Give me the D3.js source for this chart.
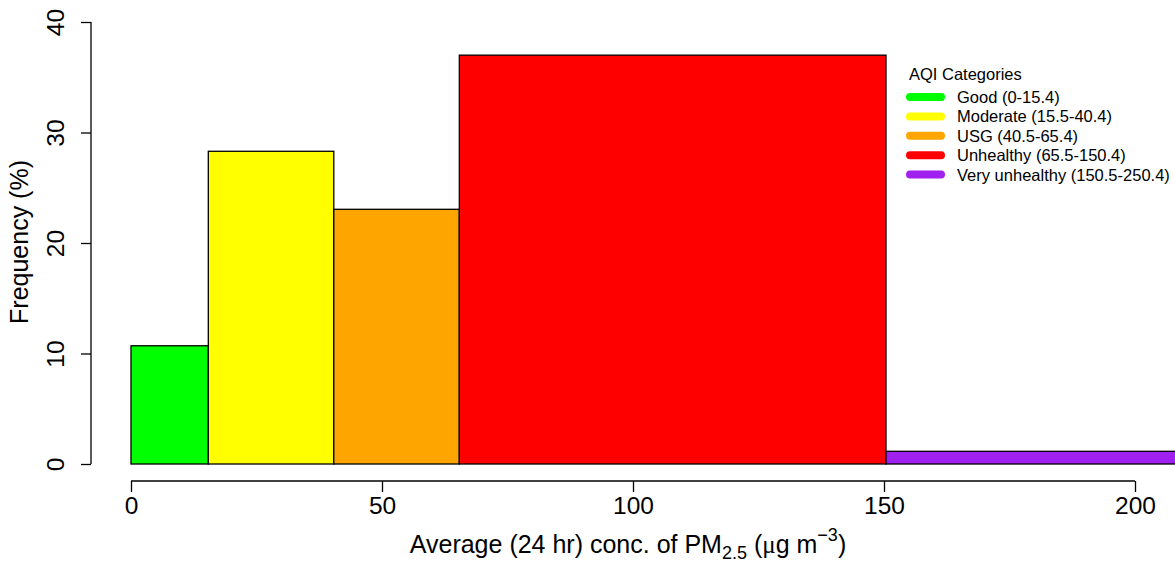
<!DOCTYPE html>
<html>
<head>
<meta charset="utf-8">
<script src="https://cdn.jsdelivr.net/npm/d3@7"></script>
<style>
  body { margin: 0; background: #fff; }
  text { font-family: "Liberation Sans", Arial, sans-serif; }
</style>
</head>
<body>
<div id="chart"></div>
<script>
// histogram bins (PM2.5 AQI breakpoints) and frequency in %
const binStart = [0, 15.4, 40.4, 65.4, 150.4];
const binEnd = [15.4, 40.4, 65.4, 150.4, 250.4];
const freq = [10.7, 28.3, 23.05, 37.0, 1.15];
const binColors = ["#00ff00", "#ffff00", "#ffa500", "#ff0000", "#a020f0"];
const legendLabels = [
    "Good (0-15.4)",
    "Moderate (15.5-40.4)",
    "USG (40.5-65.4)",
    "Unhealthy (65.5-150.4)",
    "Very unhealthy (150.5-250.4)"
];
const xTicks = [0, 50, 100, 150, 200];
const yTicks = [0, 10, 20, 30, 40];

const width = 1175;
const height = 564;

const svg = d3.select("#chart")
    .append("svg")
    .attr("width", width)
    .attr("height", height);

const xScale = d3.scaleLinear()
    .domain([0, 200])
    .range([131, 1135]);

const yScale = d3.scaleLinear()
    .domain([0, 40])
    .range([464, 22]);

// bars
svg.selectAll("rect.bar")
    .data(freq)
    .enter()
    .append("rect")
    .attr("class", "bar")
    .attr("x", (d, i) => xScale(binStart[i]))
    .attr("y", d => yScale(d))
    .attr("width", (d, i) => xScale(binEnd[i]) - xScale(binStart[i]))
    .attr("height", d => yScale(0) - yScale(d))
    .style("fill", (d, i) => binColors[i])
    .style("stroke", "#000")
    .style("stroke-width", 1.3);

// X axis (R style, detached)
const xAxis = svg.append("g")
    .attr("transform", "translate(0, 481)")
    .call(d3.axisBottom(xScale).tickValues(xTicks).tickSize(11).tickPadding(5).tickSizeOuter(0));
xAxis.select(".domain").remove();
xAxis.append("line")
    .attr("x1", xScale(0)).attr("x2", xScale(200))
    .attr("stroke", "#000").attr("stroke-width", 1.3);
xAxis.selectAll(".tick line").attr("stroke-width", 1.3);
xAxis.selectAll(".tick text")
    .attr("fill", "#000")
    .style("font-size", "24.5px")
    .style("font-family", "'Liberation Sans', Arial, sans-serif");

// Y axis
const yAxis = svg.append("g")
    .attr("transform", "translate(91, 0)")
    .call(d3.axisLeft(yScale).tickValues(yTicks).tickSize(10).tickSizeOuter(0));
yAxis.select(".domain").remove();
yAxis.append("line")
    .attr("y1", yScale(0)).attr("y2", yScale(40))
    .attr("stroke", "#000").attr("stroke-width", 1.3);
yAxis.selectAll(".tick line").attr("stroke-width", 1.3);
yAxis.selectAll(".tick text")
    .attr("fill", "#000")
    .attr("x", null).attr("dy", null)
    .attr("transform", "translate(-27, 0) rotate(-90)")
    .attr("text-anchor", "middle")
    .style("font-size", "24.5px")
    .style("font-family", "'Liberation Sans', Arial, sans-serif");

// axis titles
const xLabel = svg.append("text")
    .attr("x", 628)
    .attr("y", 553)
    .attr("text-anchor", "middle")
    .style("font-size", "25px");
xLabel.append("tspan").text("Average (24 hr) conc. of PM");
xLabel.append("tspan").attr("dy", 6).style("font-size", "18px").text("2.5");
xLabel.append("tspan").attr("dy", -6).text(" (");
xLabel.append("tspan").style("font-family", "'Liberation Serif', 'Times New Roman', serif").text("\u03bc");
xLabel.append("tspan").text("g m");
xLabel.append("tspan").attr("dy", -12).style("font-size", "18px").text("\u22123");
xLabel.append("tspan").attr("dy", 12).text(")");

svg.append("text")
    .attr("transform", "translate(28, 242) rotate(-90)")
    .attr("text-anchor", "middle")
    .style("font-size", "25px")
    .text("Frequency (%)");

// legend
const legend = svg.append("g")
    .attr("transform", "translate(905, 80)");

legend.append("text")
    .attr("x", 4)
    .attr("y", 0)
    .style("font-size", "16.5px")
    .text("AQI Categories");

const legendItems = legend.selectAll(".legend")
    .data(legendLabels)
    .enter()
    .append("g")
    .attr("class", "legend")
    .attr("transform", (d, i) => `translate(0, ${17 + i * 19.4})`);

legendItems.append("line")
    .attr("x1", 5)
    .attr("x2", 36)
    .attr("y1", 0)
    .attr("y2", 0)
    .style("stroke", (d, i) => binColors[i])
    .style("stroke-width", 8)
    .style("stroke-linecap", "round");

legendItems.append("text")
    .attr("x", 52)
    .attr("y", 6)
    .style("font-size", "16.5px")
    .text(d => d);
</script>
</body>
</html>
